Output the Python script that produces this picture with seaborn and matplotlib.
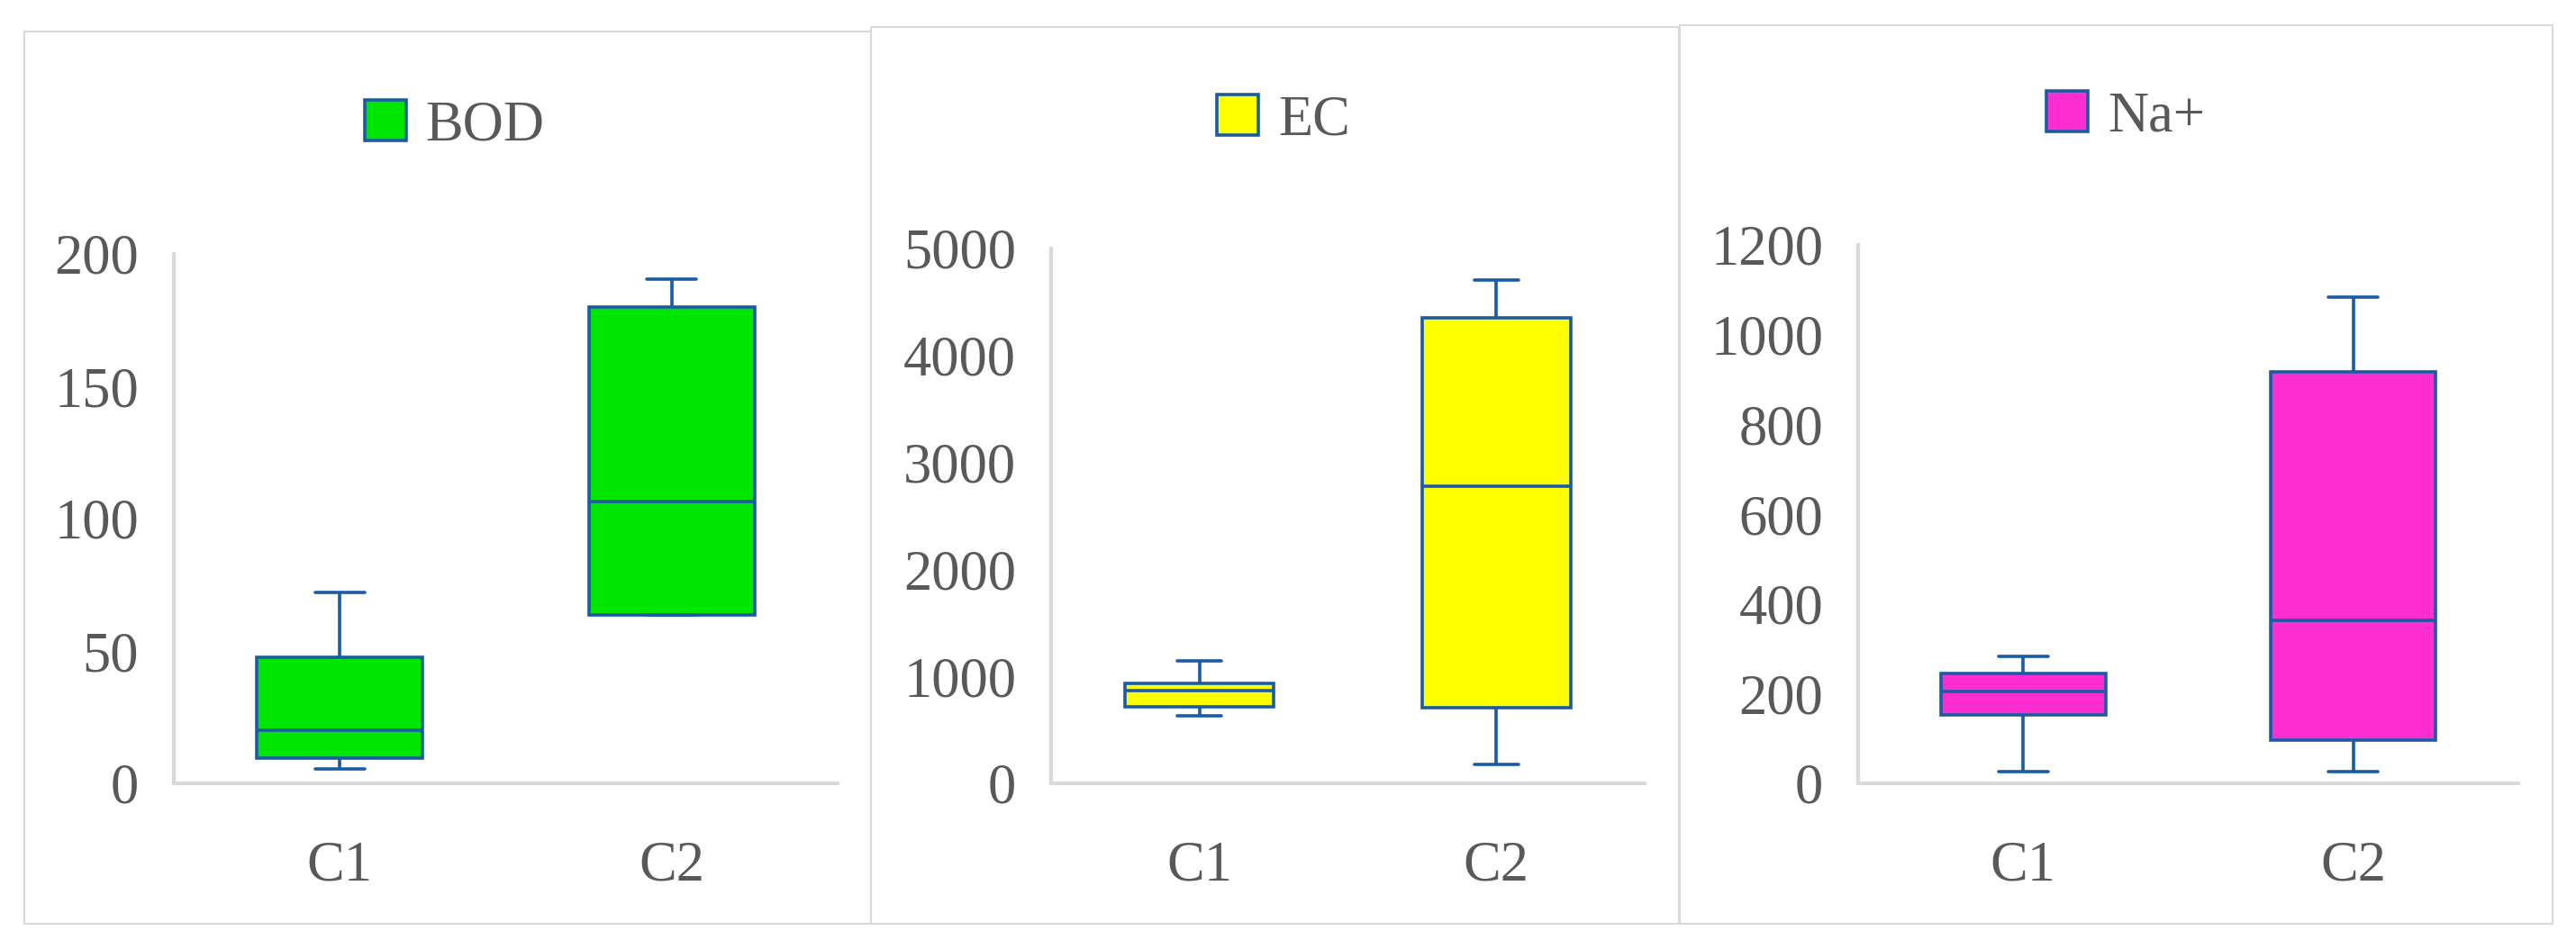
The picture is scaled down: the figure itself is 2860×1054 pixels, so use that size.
import numpy as np
import pandas as pd
import matplotlib
matplotlib.use('Agg')
import matplotlib.pyplot as plt
import seaborn as sns
from matplotlib.patches import Rectangle

# categories
groups = ['C1', 'C2']

# five-number summaries (min, Q1, median, Q3, max)
bod_c1 = [5.3, 9.6, 20.1, 47.5, 72]
bod_c2 = [63.5, 63.5, 106.3, 180, 190.4]
ec_c1 = [633, 717, 870, 938, 1141]
ec_c2 = [175, 706, 2774, 4356, 4706]
na_c1 = [27, 152, 205, 245, 283]
na_c2 = [27, 97, 364, 917, 1083]

params = ['BOD', 'EC', 'Na+']
series = [(bod_c1, bod_c2), (ec_c1, ec_c2), (na_c1, na_c2)]
y_max = [200, 5000, 1200]
y_step = [50, 1000, 200]
colors = ['#00E600', '#FFFF00', '#FF2ED2']

W, H = 2860, 1054
edge = '#1A5BA6'
grey_txt = '#595959'
grey_line = '#D9D9D9'

# layout in pixels: axes (left, top, right, bottom), legend centre, panel frame
axes_px = [(193, 282, 930, 870), (1167, 276, 1826, 870), (2063, 272, 2796, 870)]
legend_px = [(505, 140), (1425, 134), (2360, 130)]
frame_px = [(27, 35, 967, 1026), (967, 30, 1864, 1026), (1865, 28, 2834, 1026)]

sns.set_theme(style='white')
plt.rcParams['font.family'] = ['Liberation Serif', 'DejaVu Serif']

fig = plt.figure(figsize=(W / 100, H / 100), dpi=100)

for i, name in enumerate(params):
    c1, c2 = series[i]
    df = pd.DataFrame({
        'group': [groups[0]] * len(c1) + [groups[1]] * len(c2),
        'value': c1 + c2,
        'param': name,
    })

    l, t, r, b = axes_px[i]
    ax = fig.add_axes([l / W, 1 - b / H, (r - l) / W, (b - t) / H])

    sns.boxplot(data=df, x='group', y='value', hue='param', palette=[colors[i]],
                saturation=1, whis=(0, 100), width=0.5, linecolor=edge,
                linewidth=2.6, showfliers=False, capwidths=0.15, ax=ax)

    ax.set_xlim(-0.5, 1.5)
    ax.set_ylim(0, y_max[i])
    ax.set_yticks(np.arange(0, y_max[i] + 1, y_step[i]))
    ax.set_xlabel('')
    ax.set_ylabel('')
    for s in ['top', 'right']:
        ax.spines[s].set_visible(False)
    for s in ['left', 'bottom']:
        ax.spines[s].set_color(grey_line)
        ax.spines[s].set_linewidth(3)
    ax.tick_params(length=0, labelsize=45, colors=grey_txt)
    ax.tick_params(axis='y', pad=28)
    ax.tick_params(axis='x', pad=46)

    leg = ax.get_legend()
    handles = leg.legend_handles
    leg.remove()
    cx, cy = legend_px[i]
    ax.legend(handles, [name], loc='center', bbox_to_anchor=(cx / W, 1 - cy / H),
              bbox_transform=fig.transFigure, frameon=False, fontsize=45,
              handlelength=0.73, handleheight=0.73, handletextpad=0.35,
              labelcolor=grey_txt)

    x0, y0, x1, y1 = frame_px[i]
    fig.add_artist(Rectangle((x0 / W, 1 - y1 / H), (x1 - x0) / W, (y1 - y0) / H,
                             transform=fig.transFigure, fill=False,
                             ec=grey_line, lw=1.5))

fig.savefig('out.png', dpi=100)
